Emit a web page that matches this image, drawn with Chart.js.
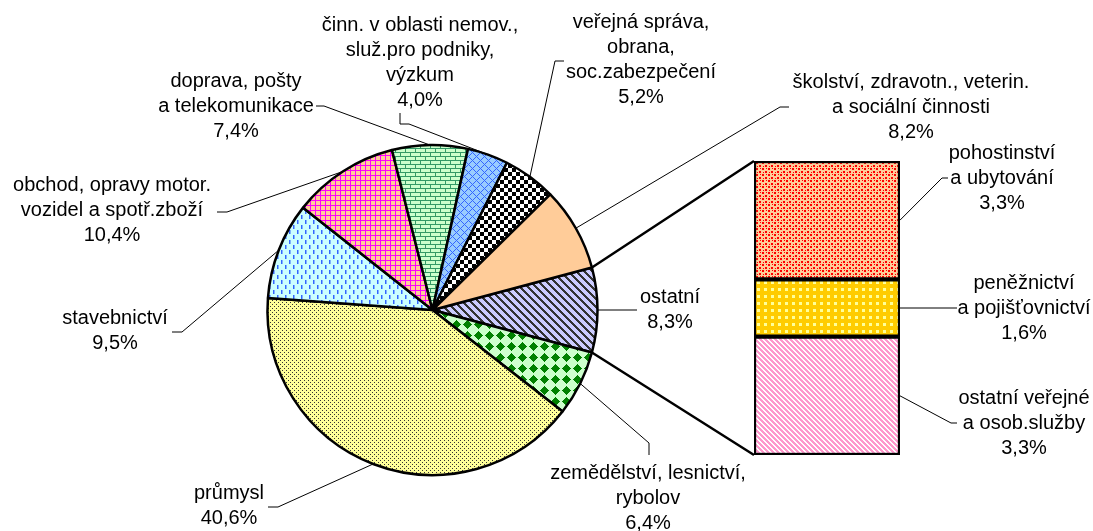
<!DOCTYPE html>
<html>
<head>
<meta charset="utf-8">
<script src="https://cdn.jsdelivr.net/npm/chart.js@4.4.1/dist/chart.umd.min.js"></script>
<style>
  html, body { margin: 0; padding: 0; background: #fff; }
  #wrap { position: relative; width: 1093px; height: 531px; }
  #wrap canvas { position: absolute; left: 0; top: 0; }
</style>
</head>
<body>
<div id="wrap">
  <canvas id="pieChart" width="1093" height="531"></canvas>
  <canvas id="barChart" width="1093" height="531"></canvas>
</div>
<script>
// pie slices, clockwise from the "ostatní" slice that faces the bar
const pieLabels = [
  ["ostatní"],
  ["zemědělství, lesnictví,", "rybolov"],
  ["průmysl"],
  ["stavebnictví"],
  ["obchod, opravy motor.", "vozidel a spotř.zboží"],
  ["doprava, pošty", "a telekomunikace"],
  ["činn. v oblasti nemov.,", "služ.pro podniky,", "výzkum"],
  ["veřejná správa,", "obrana,", "soc.zabezpečení"],
  ["školství, zdravotn., veterin.", "a sociální činnosti"],
];
const pieValues = [8.3, 6.4, 40.6, 9.5, 10.4, 7.4, 4.0, 5.2, 8.2];

// breakdown of "ostatní", bottom to top
const barLabels = [
  ["ostatní veřejné", "a osob.služby"],
  ["peněžnictví", "a pojišťovnictví"],
  ["pohostinství", "a ubytování"],
];
const barValues = [3.3, 1.6, 3.3];

const FONT = '20px "Liberation Sans", Arial, sans-serif';
const LINE_H = 25;

// label placement: first line centre + leader points (label side first)
const pieLabelPos = [
  { x: 670, y: 297, leader: [[637, 310]] },
  { x: 648, y: 473, leader: [[649, 455], [649, 443]] },
  { x: 229, y: 493, leader: [[268, 507], [278, 507]] },
  { x: 115, y: 318, leader: [[172, 332], [182, 332]] },
  { x: 112, y: 185, leader: [[217, 212], [227, 212]] },
  { x: 236, y: 81, leader: [[316, 106], [324, 106]] },
  { x: 420, y: 25, leader: [[400, 113], [400, 124], [409, 124]] },
  { x: 641, y: 22, leader: [[564, 61], [555, 61]] },
  { x: 911, y: 82, leader: [[789, 107], [780, 107]] },
];
const barLabelPos = [
  { x: 1024, y: 398, leader: [[957, 423], [951, 423]] },
  { x: 1024, y: 283, leader: [[957, 308]] },
  { x: 1002, y: 153, leader: [[948, 178], [942, 178]] },
];

const pct = (v) => v.toFixed(1).replace(".", ",") + "%";

// ---- fill patterns ----
function makePattern(w, h, bg, draw) {
  const c = document.createElement("canvas");
  c.width = w;
  c.height = h;
  const g = c.getContext("2d");
  g.fillStyle = bg;
  g.fillRect(0, 0, w, h);
  draw(g, w, h);
  return g.createPattern(c, "repeat");
}
function pixels(g, w, h, color, test) {
  g.fillStyle = color;
  for (let y = 0; y < h; y++)
    for (let x = 0; x < w; x++) if (test(x, y)) g.fillRect(x, y, 1, 1);
}

const piePatterns = [
  // ostatní - wide downward diagonal
  makePattern(8, 8, "#CCCCFF", (g, w, h) =>
    pixels(g, w, h, "#333333", (x, y) => (((x - y) % 8) + 8) % 8 < 3)),
  // zemědělství - diamonds
  makePattern(11, 11, "#CCFFCC", (g, w, h) =>
    pixels(g, w, h, "#008000", (x, y) => Math.abs(x - 5) + Math.abs(y - 5) <= 4)),
  // průmysl - fine dots
  makePattern(4, 4, "#FFFF99", (g) => {
    g.fillStyle = "#333333";
    g.fillRect(0, 0, 1, 1);
    g.fillRect(2, 2, 1, 1);
  }),
  // stavebnictví - short vertical dashes
  makePattern(8, 10, "#CCFFFF", (g) => {
    g.fillStyle = "#3366FF";
    g.fillRect(1, 0, 1.5, 4);
    g.fillRect(5, 5, 1.5, 4);
  }),
  // obchod - grid
  makePattern(5, 5, "#FFCC99", (g) => {
    g.fillStyle = "#FF00FF";
    g.fillRect(0, 0, 5, 1);
    g.fillRect(0, 0, 1, 5);
  }),
  // doprava - bricks
  makePattern(10, 8, "#CCFFCC", (g) => {
    g.fillStyle = "#339966";
    g.fillRect(0, 0, 10, 1);
    g.fillRect(0, 4, 10, 1);
    g.fillRect(0, 0, 1, 4);
    g.fillRect(5, 4, 1, 4);
  }),
  // činn. - trellis
  makePattern(8, 8, "#99CCFF", (g, w, h) =>
    pixels(g, w, h, "#3366FF", (x, y) => (x + y) % 8 === 0 || (((x - y) % 8) + 8) % 8 === 0)),
  // veřejná správa - checker board
  makePattern(8, 8, "#FFFFFF", (g) => {
    g.fillStyle = "#000000";
    g.fillRect(0, 0, 4, 4);
    g.fillRect(4, 4, 4, 4);
  }),
  // školství - plain
  "#FFCC99",
];

const barPatterns = [
  // ostatní veřejné - pink diagonal
  makePattern(5, 5, "#FFFFFF", (g, w, h) =>
    pixels(g, w, h, "#FF99CC", (x, y) => (((x - y) % 5) + 5) % 5 < 3)),
  // peněžnictví - yellow spheres
  makePattern(7, 7, "#FFCC00", (g) => {
    g.fillStyle = "#FFFF99";
    g.fillRect(1, 1, 3, 3);
  }),
  // pohostinství - red confetti
  makePattern(6, 6, "#FFCC99", (g) => {
    g.fillStyle = "#FF0000";
    g.fillRect(0, 0, 2, 2);
    g.fillRect(3, 3, 2, 2);
    g.fillRect(4, 0, 1, 1);
    g.fillRect(1, 4, 1, 1);
  }),
];

function drawLabel(ctx, lines, pos, anchor) {
  ctx.save();
  ctx.strokeStyle = "#000";
  ctx.lineWidth = 1;
  ctx.beginPath();
  ctx.moveTo(pos.leader[0][0], pos.leader[0][1]);
  pos.leader.slice(1).forEach((p) => ctx.lineTo(p[0], p[1]));
  ctx.lineTo(anchor.x, anchor.y);
  ctx.stroke();
  ctx.fillStyle = "#000";
  ctx.font = FONT;
  ctx.textAlign = "center";
  ctx.textBaseline = "middle";
  lines.forEach((t, i) => ctx.fillText(t, pos.x, pos.y + i * LINE_H));
  ctx.restore();
}

const pieLabelsPlugin = {
  id: "pieLabels",
  beforeDatasetsDraw(chart) {
    const ctx = chart.ctx;
    chart.getDatasetMeta(0).data.forEach((arc, i) => {
      const mid = (arc.startAngle + arc.endAngle) / 2;
      const rim = {
        x: arc.x + Math.cos(mid) * arc.outerRadius,
        y: arc.y + Math.sin(mid) * arc.outerRadius,
      };
      drawLabel(ctx, [...pieLabels[i], pct(pieValues[i])], pieLabelPos[i], rim);
    });
  },
};

const startShare = pieValues[0] / pieValues.reduce((a, b) => a + b, 0);

const pieChart = new Chart(document.getElementById("pieChart"), {
  type: "pie",
  data: {
    labels: pieLabels.map((l) => l.join(" ")),
    datasets: [
      {
        data: pieValues,
        backgroundColor: piePatterns,
        borderColor: "#000",
        borderWidth: 2.5,
      },
    ],
  },
  options: {
    responsive: false,
    animation: false,
    radius: 165,
    rotation: 90 - startShare * 180,
    layout: { padding: { left: 262.5, right: 490.5, top: 140, bottom: 51 } },
    plugins: { legend: { display: false }, tooltip: { enabled: false } },
  },
  plugins: [pieLabelsPlugin],
});

const barLabelsPlugin = {
  id: "barLabels",
  afterDraw(chart) {
    const ctx = chart.ctx;
    const bars = chart.data.datasets.map((d, i) => chart.getDatasetMeta(i).data[0]);
    bars.forEach((bar, i) => {
      const anchor = { x: bar.x + bar.width / 2, y: (bar.y + bar.base) / 2 };
      drawLabel(ctx, [...barLabels[i], pct(barValues[i])], barLabelPos[i], anchor);
    });
    // connectors from the "ostatní" slice edges to the bar corners
    const arc = pieChart.getDatasetMeta(0).data[0];
    const top = bars[bars.length - 1];
    const bottom = bars[0];
    const left = top.x - top.width / 2;
    ctx.save();
    ctx.strokeStyle = "#000";
    ctx.lineWidth = 2.5;
    ctx.beginPath();
    ctx.moveTo(arc.x + Math.cos(arc.startAngle) * arc.outerRadius, arc.y + Math.sin(arc.startAngle) * arc.outerRadius);
    ctx.lineTo(left, top.y);
    ctx.moveTo(arc.x + Math.cos(arc.endAngle) * arc.outerRadius, arc.y + Math.sin(arc.endAngle) * arc.outerRadius);
    ctx.lineTo(left, bottom.base);
    ctx.stroke();
    ctx.restore();
  },
};

new Chart(document.getElementById("barChart"), {
  type: "bar",
  data: {
    labels: [""],
    datasets: barValues.map((v, i) => ({
      label: barLabels[i].join(" "),
      data: [v],
      backgroundColor: barPatterns[i],
      borderColor: "#000",
      borderWidth: 2.5,
      borderSkipped: false,
      barPercentage: 1,
      categoryPercentage: 1,
    })),
  },
  options: {
    responsive: false,
    animation: false,
    layout: { padding: { left: 754, right: 193, top: 161, bottom: 76 } },
    scales: {
      x: { stacked: true, display: false },
      y: { stacked: true, display: false, min: 0, max: barValues.reduce((a, b) => a + b, 0) },
    },
    plugins: { legend: { display: false }, tooltip: { enabled: false } },
  },
  plugins: [barLabelsPlugin],
});
</script>
</body>
</html>
